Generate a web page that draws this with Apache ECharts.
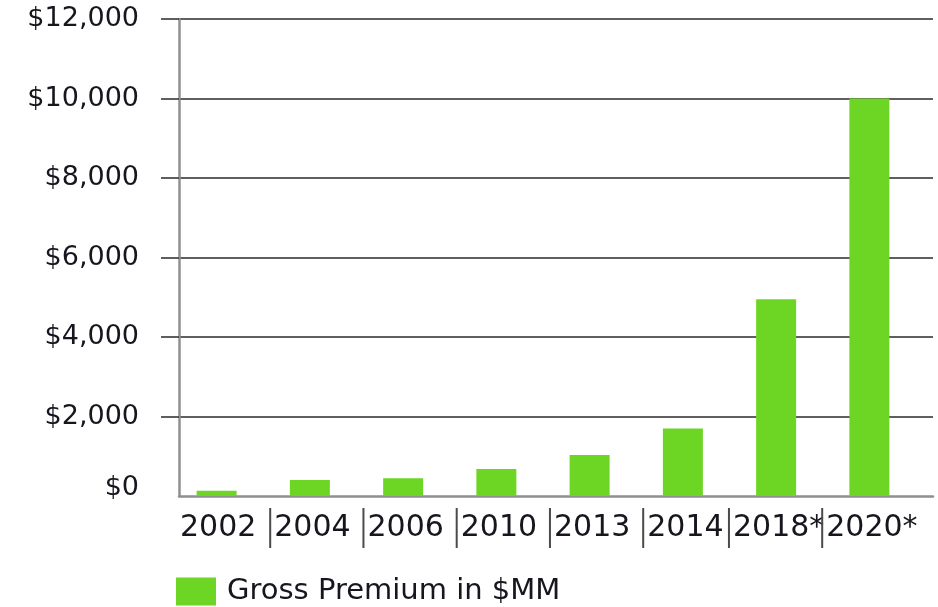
<!DOCTYPE html>
<html>
<head>
<meta charset="utf-8">
<script src="https://cdn.jsdelivr.net/npm/echarts@6/dist/echarts.min.js"></script>
<style>
  html, body { margin: 0; padding: 0; background: #fff; }
  #chart { width: 938px; height: 607px; }
</style>
</head>
<body>
<div id="chart"></div>
<script>
var categories = ['2002', '2004', '2006', '2010', '2013', '2014', '2018*', '2020*'];
var premiumValues = [133, 402, 445, 680, 1030, 1700, 4950, 10000];
var seriesName = 'Gross Premium in $MM';
var yTicks = [0, 2000, 4000, 6000, 8000, 10000, 12000];

var chart = echarts.init(document.getElementById('chart'), null, { renderer: 'canvas' });
var barColor = '#6dd624';
var textColor = '#16161e';
var fontFamily = 'DejaVu Sans';
var yMin = yTicks[0], yMax = yTicks[yTicks.length - 1], yStep = yTicks[1] - yTicks[0];

chart.setOption({
  animation: false,
  backgroundColor: '#ffffff',
  grid: [
    { left: 179, right: 5, top: 19, bottom: 111, containLabel: false },
    { left: 170, right: 22, top: 19, bottom: 111, containLabel: false }
  ],
  legend: {
    data: [seriesName],
    left: 176,
    top: 577,
    padding: 0,
    itemWidth: 40,
    itemHeight: 28,
    icon: 'rect',
    textStyle: { fontFamily: fontFamily, fontSize: 29, color: textColor, lineHeight: 28, padding: [0, 0, 0, 6] }
  },
  xAxis: [
    {
      type: 'category',
      gridIndex: 0,
      data: categories,
      axisLine: { show: true, lineStyle: { color: '#8f8f8f', width: 2.5 } },
      axisTick: { show: false },
      axisLabel: { show: false },
      splitLine: { show: false }
    },
    {
      type: 'category',
      gridIndex: 1,
      data: categories,
      axisLine: { show: false },
      axisTick: { show: false },
      splitLine: { show: false },
      axisLabel: {
        margin: 12,
        interval: 0,
        formatter: function (value, index) {
          return index === 0 ? '{t|' + value + '}' : '{s|}{t|' + value + '}';
        },
        rich: {
          s: { width: 2, height: 40, backgroundColor: '#4a4a4a', verticalAlign: 'middle' },
          t: { fontFamily: fontFamily, fontSize: 30, color: textColor, lineHeight: 40, verticalAlign: 'middle', padding: [0, 0, 0, 3] }
        }
      }
    }
  ],
  yAxis: [
    {
      type: 'value',
      gridIndex: 0,
      min: yMin,
      max: yMax,
      interval: yStep,
      axisLine: { show: true, lineStyle: { color: '#8f8f8f', width: 2.5 } },
      axisTick: { show: true, length: 18, customValues: yTicks.slice(1), lineStyle: { color: '#2a2a2a', width: 1.5 } },
      splitLine: { show: true, lineStyle: { color: '#2a2a2a', width: 1.5 } },
      axisLabel: {
        margin: 40,
        fontFamily: fontFamily,
        fontSize: 27,
        color: textColor,
        formatter: function (v) {
          var s = '$' + v.toLocaleString('en-US');
          return v === 0 ? '{z|' + s + '}' : s;
        },
        rich: {
          z: { fontFamily: fontFamily, fontSize: 27, color: textColor, padding: [0, 0, 16, 0] }
        }
      }
    },
    {
      type: 'value',
      gridIndex: 1,
      min: yMin,
      max: yMax,
      interval: yStep,
      show: false,
      splitLine: { show: false }
    }
  ],
  series: [
    {
      name: seriesName,
      type: 'bar',
      xAxisIndex: 1,
      yAxisIndex: 1,
      data: premiumValues,
      barWidth: 40,
      itemStyle: { color: barColor },
      z: 5
    }
  ]
});
</script>
</body>
</html>
